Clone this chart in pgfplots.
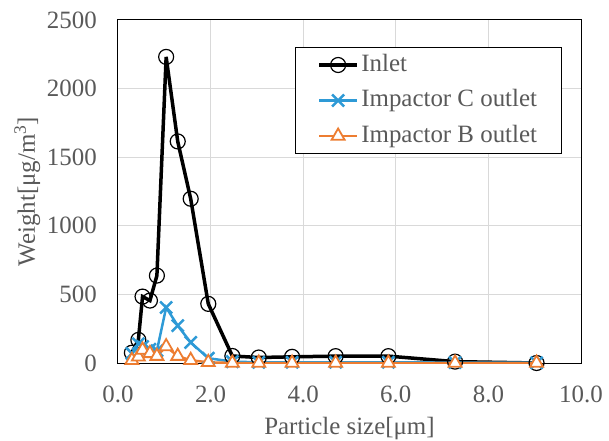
\documentclass[border=0pt]{standalone}
\usepackage{fontspec}
\setmainfont{Liberation Serif}
\usepackage{pgfplots}
\pgfplotsset{compat=1.18}
\definecolor{txtgray}{HTML}{595959}
\definecolor{gridgray}{HTML}{D9D9D9}
\definecolor{cblue}{HTML}{2E9AD6}
\definecolor{corange}{HTML}{ED7D31}
\begin{document}
\begin{tikzpicture}[font=\fontsize{25}{29}\selectfont]
\useasboundingbox (-118bp,-78bp) rectangle (491bp,363bp);
\begin{axis}[
    scale only axis,
    width=463bp, height=343bp,
    xmin=0, xmax=10, ymin=0, ymax=2500,
    xtick={0,2,4,6,8,10},
    xticklabels={0.0,2.0,4.0,6.0,8.0,10.0},
    ytick={0,500,1000,1500,2000,2500},
    yticklabels={0,500,1000,1500,2000,2500},
    major tick length=0pt,
    grid=major,
    major grid style={gridgray, line width=1bp},
    axis line style={black, line width=1bp},
    tick label style={txtgray},
    xticklabel style={anchor=north, inner sep=0pt, yshift=-23bp},
    yticklabel style={anchor=east, inner sep=0pt, xshift=-21bp},
    xlabel={Particle size[μm]},
    ylabel={Weight[μg/m\textsuperscript{3}]},
    label style={txtgray},
    xlabel style={at={(axis description cs:0.5,0)}, anchor=center, yshift=-66bp},
    ylabel style={at={(axis description cs:-0.196,0.5)}, anchor=center},
    legend style={at={(axis description cs:0.382,0.922)}, anchor=north west,
        draw=black, line width=1bp, text=txtgray, fill=white,
        inner xsep=22bp, inner ysep=0bp, row sep=0bp,
        nodes={inner xsep=2.5bp, inner ysep=6.75bp, text height=17bp, text depth=5bp}},
    legend cell align=left,
    legend image code/.code={\draw[mark repeat=2,mark phase=2,#1] plot coordinates {(0bp,0bp) (19bp,0bp) (38bp,0bp)};},
]
\addplot[black, line width=3.5bp, mark=o, mark size=7.5bp, mark options={line width=1.2bp, fill=none}]
coordinates{(0.30,75)(0.44,168)(0.53,484)(0.69,455)(0.84,637)(1.04,2231)(1.29,1615)(1.57,1197)(1.95,431)(2.47,51)(3.04,40)(3.76,45)(4.70,50)(5.84,50)(7.28,10)(9.04,0)};
\addplot[cblue, line width=2.5bp, mark=x, mark size=8.5bp, mark options={line width=2.5bp}]
coordinates{(0.30,70)(0.44,140)(0.53,120)(0.69,100)(0.84,90)(1.04,405)(1.29,272)(1.57,150)(1.95,35)(2.47,10)(3.04,5)(3.76,5)(4.70,5)(5.84,5)(7.28,3)(9.04,2)};
\addplot[corange, line width=2.5bp, mark=triangle*, mark size=7.5bp, mark options={line width=1.8bp, fill=white}]
coordinates{(0.30,20)(0.44,45)(0.53,95)(0.69,70)(0.84,50)(1.04,120)(1.29,50)(1.57,20)(1.95,5)(2.47,0)(3.04,0)(3.76,0)(4.70,0)(5.84,0)(7.28,0)(9.04,0)};
\legend{Inlet, Impactor C outlet, Impactor B outlet}
\end{axis}
\end{tikzpicture}
\end{document}
